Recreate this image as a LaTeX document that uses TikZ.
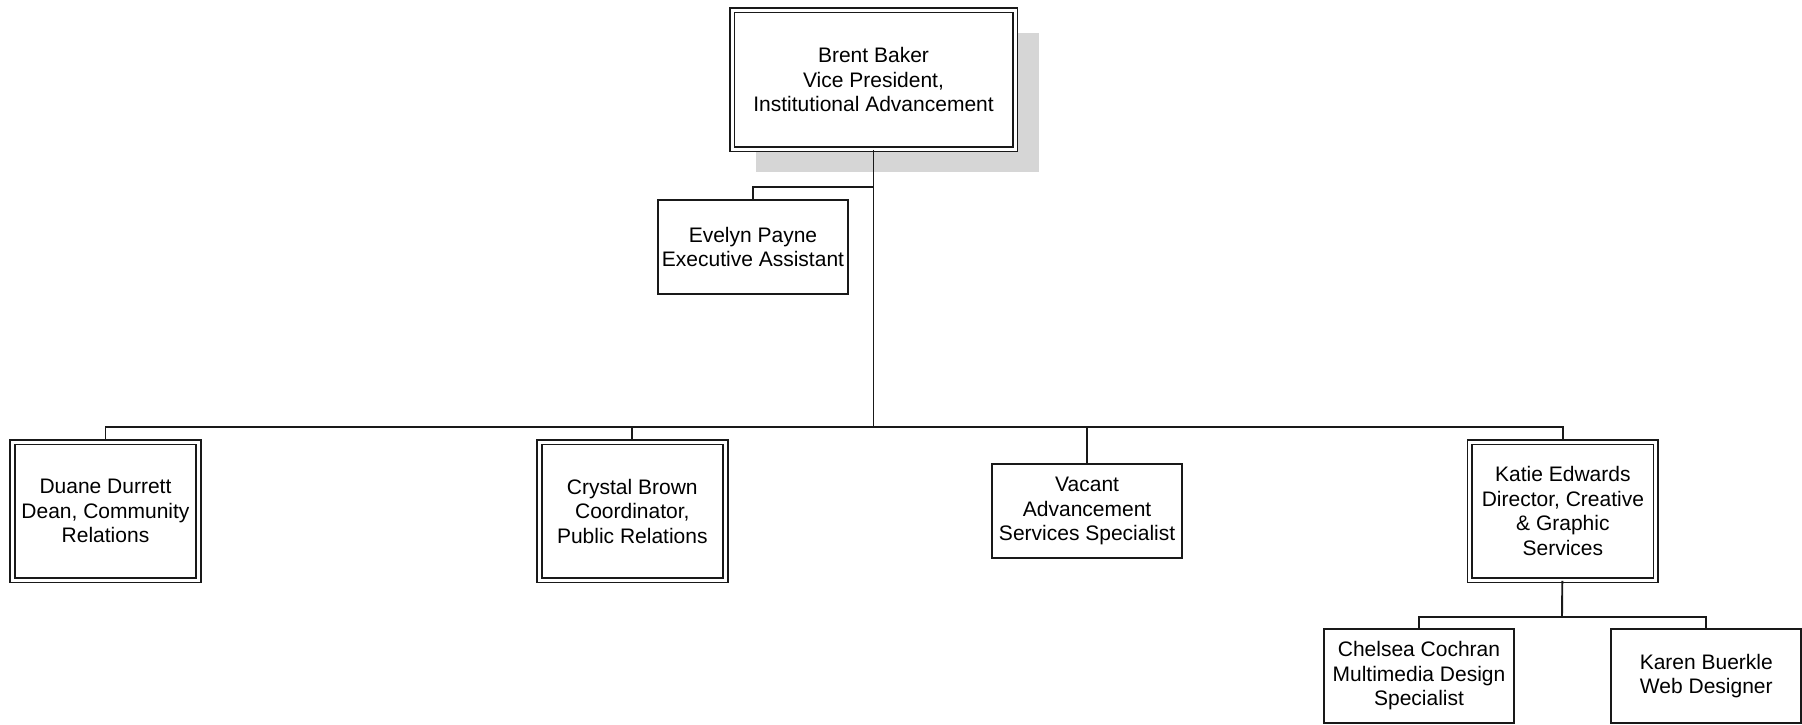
\documentclass[tikz,border=0pt]{standalone}
\usepackage{fontspec}
\setmainfont{Liberation Sans}
\usetikzlibrary{positioning, shadows}

\begin{document}
\begin{tikzpicture}[
x=1pt, y=-1pt,
every node/.style={font=\fontsize{21}{24.5}\selectfont},
post/.style={rectangle, text centered, align=center, inner sep=0pt,
minimum width=190pt, minimum height=94pt, line width=1.9pt, draw=black!90, fill=white},
post-head/.style={post, double, double distance=3pt, minimum width=186pt, minimum height=138pt},
post-top/.style={post-head, minimum width=283pt, minimum height=139pt,
drop shadow={shadow xshift=24pt, shadow yshift=-23pt, fill=black!16, opacity=1}},
line/.style={draw, line width=1.9pt, draw=black!90}
]
\useasboundingbox (0,0) rectangle (1802,724);

\node[post-top] (baker) at (873.5,79.5) {Brent Baker\\Vice President,\\Institutional Advancement};
\node[post] (payne) at (753,247) {Evelyn Payne\\Executive Assistant};

\node[post-head] (durrett) at (105.5,511) {Duane Durrett\\Dean, Community\\Relations};
\node[post-head, right=338.9pt of durrett] (brown) {Crystal Brown\\Coordinator,\\Public Relations};
\node[post, right=264.9pt of brown] (vacant) {Vacant\\Advancement\\Services Specialist};
\node[post-head, right=285.9pt of vacant] (edwards) {Katie Edwards\\Director, Creative\\\& Graphic\\Services};

\node[post] (cochran) at (1419,676) {Chelsea Cochran\\Multimedia Design\\Specialist};
\node[post, right=95.4pt of cochran] (buerkle) {Karen Buerkle\\Web Designer};

\coordinate (hub) at (873.5,187);
\coordinate (bus) at (873.5,427);
\coordinate (gbus) at (1562,617);

\path [line] (baker) -- (bus);
\path [line] (hub) -| (payne);
\path [line] (bus) -| (durrett);
\path [line] (bus) -| (brown);
\path [line] (bus) -| (vacant);
\path [line] (bus) -| (edwards);
\path [line] (edwards) -- (gbus);
\path [line] (gbus) -| (cochran);
\path [line] (gbus) -| (buerkle);
\end{tikzpicture}
\end{document}
